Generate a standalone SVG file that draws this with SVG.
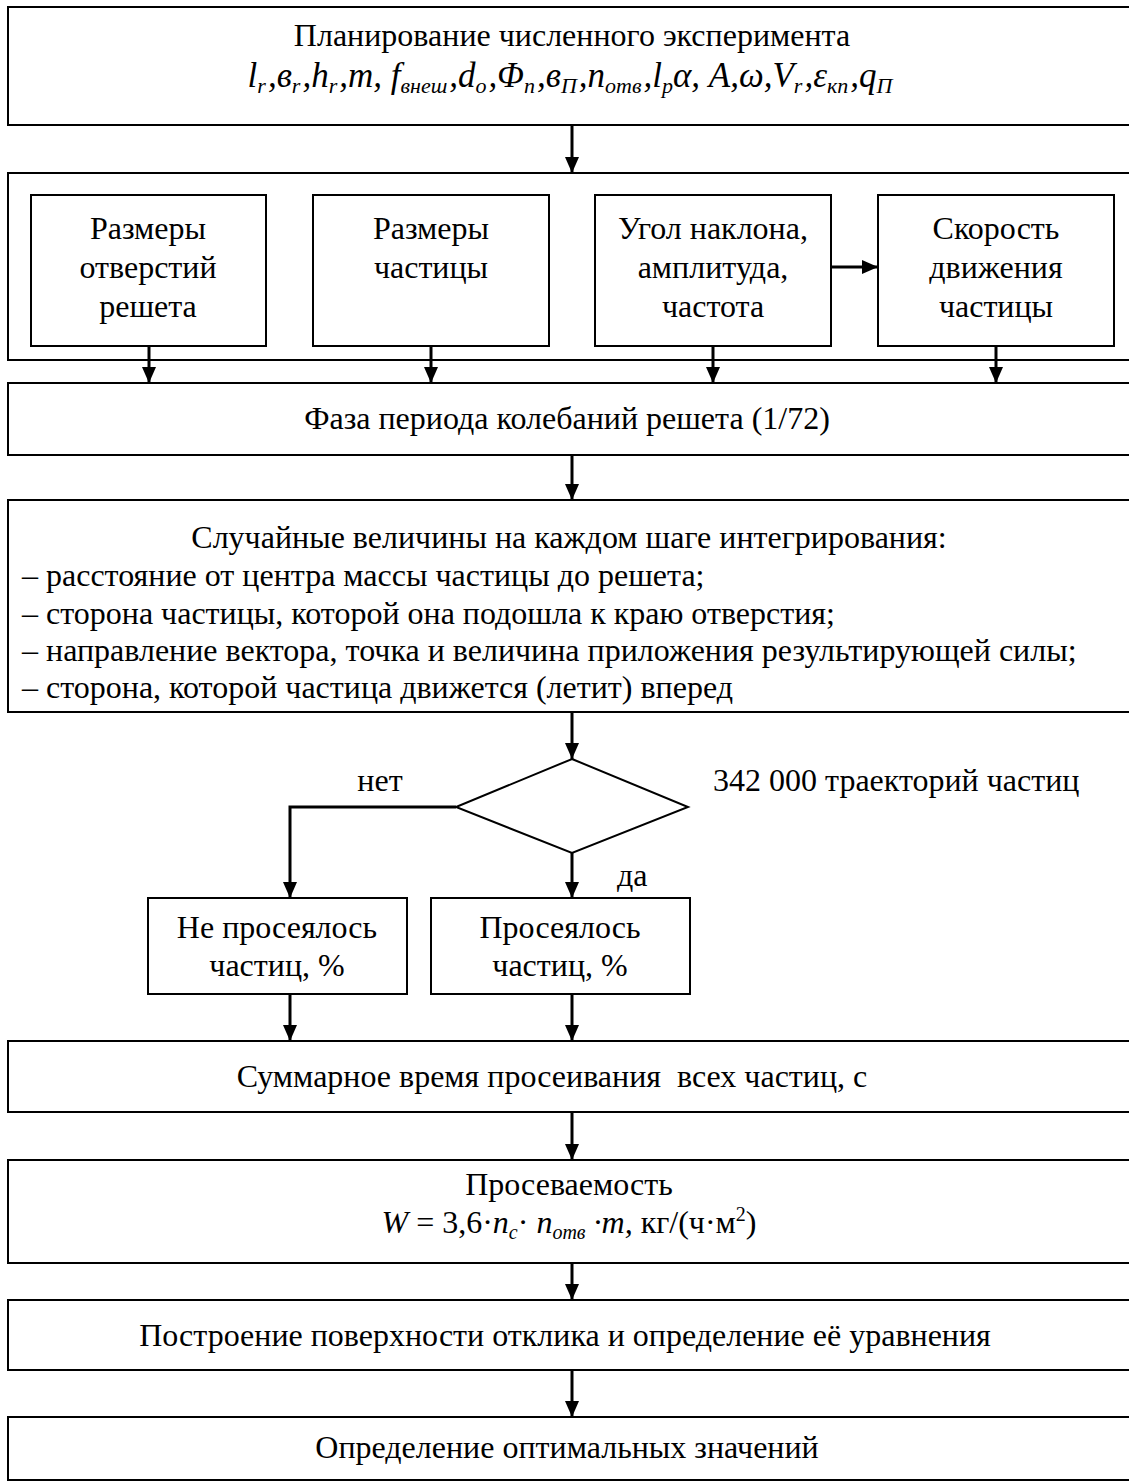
<svg xmlns="http://www.w3.org/2000/svg" width="1129" height="1484" viewBox="0 0 1129 1484">
<defs>
<marker id="ah" markerUnits="userSpaceOnUse" markerWidth="16" markerHeight="16" viewBox="0 0 16 16" refX="16" refY="8" orient="auto">
<path d="M0,1 L16,8 L0,15 Z" fill="#000"/>
</marker>
<style>
.box{fill:#fff;stroke:#000;stroke-width:2}
.t{font-family:"Liberation Serif","Times New Roman",serif;font-size:32px;fill:#000}
.c{text-anchor:middle}
.i{font-style:italic}
.s{font-size:20px}
.s2{font-size:22px}
.con{fill:none;stroke:#000;stroke-width:3}
</style>
</defs>
<rect width="1129" height="1484" fill="#fff"/>
<g id="n1">
<rect class="box" x="8" y="7" width="1135" height="118"/>
<text class="t c" x="572" y="46">Планирование численного эксперимента</text>
<text class="t c i" x="570" y="87" style="font-size:35px">l<tspan class="s2" dy="6">r</tspan><tspan dy="-6" dx="2">,в</tspan><tspan class="s2" dy="6">r</tspan><tspan dy="-6" dx="2">,h</tspan><tspan class="s2" dy="6">r</tspan><tspan dy="-6" dx="2">,m, f</tspan><tspan class="s2" dy="6">внеш</tspan><tspan dy="-6" dx="2">,d</tspan><tspan class="s2" dy="6">o</tspan><tspan dy="-6" dx="2">,Φ</tspan><tspan class="s2" dy="6">n</tspan><tspan dy="-6" dx="2">,в</tspan><tspan class="s2" dy="6">П</tspan><tspan dy="-6" dx="2">,n</tspan><tspan class="s2" dy="6">отв</tspan><tspan dy="-6" dx="2">,l</tspan><tspan class="s2" dy="6">p</tspan><tspan dy="-6">α, A,ω,V</tspan><tspan class="s2" dy="6">r</tspan><tspan dy="-6" dx="2">,ε</tspan><tspan class="s2" dy="6">кп</tspan><tspan dy="-6" dx="2">,q</tspan><tspan class="s2" dy="6">П</tspan></text>
</g>
<g id="n2">
<rect class="box" x="8" y="173" width="1135" height="187"/>
</g>
<g id="n2a">
<rect class="box" x="31" y="195" width="235" height="151"/>
<text class="t c" x="148" y="239">Размеры</text>
<text class="t c" x="148" y="278">отверстий</text>
<text class="t c" x="148" y="317">решета</text>
</g>
<g id="n2b">
<rect class="box" x="313" y="195" width="236" height="151"/>
<text class="t c" x="431" y="239">Размеры</text>
<text class="t c" x="431" y="278">частицы</text>
</g>
<g id="n2c">
<rect class="box" x="595" y="195" width="236" height="151"/>
<text class="t c" x="713" y="239">Угол наклона,</text>
<text class="t c" x="713" y="278">амплитуда,</text>
<text class="t c" x="713" y="317">частота</text>
</g>
<g id="n2d">
<rect class="box" x="878" y="195" width="236" height="151"/>
<text class="t c" x="996" y="239">Скорость</text>
<text class="t c" x="996" y="278">движения</text>
<text class="t c" x="996" y="317">частицы</text>
</g>
<g id="n3">
<rect class="box" x="8" y="383" width="1135" height="72"/>
<text class="t c" x="567" y="429">Фаза периода колебаний решета (1/72)</text>
</g>
<g id="n4">
<rect class="box" x="8" y="500" width="1135" height="212"/>
<text class="t c" x="569" y="548">Случайные величины на каждом шаге интегрирования:</text>
<text class="t" x="22" y="586">– расстояние от центра массы частицы до решета;</text>
<text class="t" x="22" y="624">– сторона частицы, которой она подошла к краю отверстия;</text>
<text class="t" x="22" y="661">– направление вектора, точка и величина приложения результирующей силы;</text>
<text class="t" x="22" y="698">– сторона, которой частица движется (летит) вперед</text>
</g>
<g id="n5">
<polygon points="572,759 688,807 572,853 456,807" fill="#fff" stroke="#000" stroke-width="2"/>
<text class="t" x="713" y="791">342 000 траекторий частиц</text>
</g>
<g id="n6">
<rect class="box" x="148" y="898" width="259" height="96"/>
<text class="t c" x="277" y="938">Не просеялось</text>
<text class="t c" x="277" y="976">частиц, %</text>
</g>
<g id="n7">
<rect class="box" x="431" y="898" width="259" height="96"/>
<text class="t c" x="560" y="938">Просеялось</text>
<text class="t c" x="560" y="976">частиц, %</text>
</g>
<g id="n8">
<rect class="box" x="8" y="1041" width="1135" height="71"/>
<text class="t c" x="552" y="1087" style="white-space:pre">Суммарное время просеивания  всех частиц, с</text>
</g>
<g id="n9">
<rect class="box" x="8" y="1160" width="1135" height="103"/>
<text class="t c" x="569" y="1195">Просеваемость</text>
<text class="t c" x="569" y="1233"><tspan class="i">W</tspan> = 3,6·<tspan class="i">n</tspan><tspan class="i s" dy="6">c</tspan><tspan dy="-6">· </tspan><tspan class="i">n</tspan><tspan class="i s" dy="6">отв</tspan><tspan dy="-6" class="i"> ·m,</tspan> кг/(ч·м<tspan class="s" dy="-12">2</tspan><tspan dy="12">)</tspan></text>
</g>
<g id="n10">
<rect class="box" x="8" y="1300" width="1135" height="70"/>
<text class="t c" x="565" y="1346">Построение поверхности отклика и определение её уравнения</text>
</g>
<g id="n11">
<rect class="box" x="8" y="1417" width="1135" height="63"/>
<text class="t c" x="567" y="1458">Определение оптимальных значений</text>
</g>
<g id="connectors">
<line class="con" x1="572" y1="125" x2="572" y2="173" marker-end="url(#ah)"/>
<line class="con" x1="149" y1="346" x2="149" y2="383" marker-end="url(#ah)"/>
<line class="con" x1="431" y1="346" x2="431" y2="383" marker-end="url(#ah)"/>
<line class="con" x1="713" y1="346" x2="713" y2="383" marker-end="url(#ah)"/>
<line class="con" x1="996" y1="346" x2="996" y2="383" marker-end="url(#ah)"/>
<line class="con" x1="831" y1="267" x2="878" y2="267" marker-end="url(#ah)"/>
<line class="con" x1="572" y1="455" x2="572" y2="500" marker-end="url(#ah)"/>
<line class="con" x1="572" y1="712" x2="572" y2="759" marker-end="url(#ah)"/>
<line class="con" x1="572" y1="853" x2="572" y2="898" marker-end="url(#ah)"/>
<polyline class="con" points="456,807 290,807 290,898" marker-end="url(#ah)"/>
<line class="con" x1="290" y1="994" x2="290" y2="1041" marker-end="url(#ah)"/>
<line class="con" x1="572" y1="994" x2="572" y2="1041" marker-end="url(#ah)"/>
<line class="con" x1="572" y1="1112" x2="572" y2="1160" marker-end="url(#ah)"/>
<line class="con" x1="572" y1="1263" x2="572" y2="1300" marker-end="url(#ah)"/>
<line class="con" x1="572" y1="1370" x2="572" y2="1417" marker-end="url(#ah)"/>
<text class="t c" x="380" y="791">нет</text>
<text class="t" x="617" y="886">да</text>
</g>
</svg>
